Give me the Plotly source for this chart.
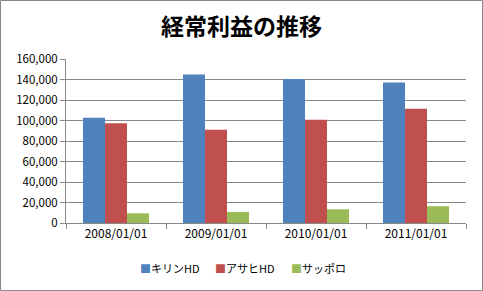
import plotly.graph_objects as go

categories = ["2008/01/01", "2009/01/01", "2010/01/01", "2011/01/01"]
kirin = [102600, 144800, 140600, 137000]
asahi = [97400, 90900, 100700, 111500]
sapporo = [9500, 10800, 13400, 16400]
series_names = ["キリンHD", "アサヒHD", "サッポロ"]
colors = ["#4F81BD", "#C0504D", "#9BBB59"]

W, H = 483, 291
ml, mr, mt, mb = 66, 17, 59, 68
font = "Noto Sans CJK JP, DejaVu Sans, sans-serif"

fig = go.Figure()
for name, vals, c in zip(series_names, [kirin, asahi, sapporo], colors):
    fig.add_trace(go.Bar(x=categories, y=vals, name=name, showlegend=False,
                         marker=dict(color=c, line=dict(width=0))))

pw, ph = W - ml - mr, H - mt - mb
fig.add_shape(type="rect", xref="paper", yref="paper",
              x0=(0.5 - ml) / pw, x1=(W - 0.5 - ml) / pw,
              y0=-(mb - 0.5) / ph, y1=1 + (mt - 0.5) / ph,
              line=dict(color="#888888", width=1), layer="above")

# legend drawn as text items
legend_x = [138, 213, 289]
for name, c, lx in zip(series_names, colors, legend_x):
    fig.add_annotation(text=f"<span style='color:{c}'>■</span>{name}",
                       xref="paper", yref="paper",
                       x=(lx - ml) / pw, y=-(268 - mt - ph) / ph,
                       xanchor="left", yanchor="middle", showarrow=False,
                       font=dict(size=11, family=font, color="#000000"))

fig.update_layout(
    width=W, height=H,
    margin=dict(l=ml, r=mr, t=mt, b=mb),
    paper_bgcolor="white", plot_bgcolor="white",
    barmode="group", bargap=0.34, bargroupgap=0,
    font=dict(family=font, size=11, color="#000000"),
    title=dict(text="<b>経常利益の推移</b>", x=0.5, xref="container", xanchor="center",
               y=1 - 27 / H, yref="container", yanchor="middle",
               font=dict(size=23, family=font, color="#000000")),
    showlegend=False,
    xaxis=dict(type="category", showline=True, linecolor="#888888", ticks="outside",
               tickson="boundaries", ticklen=5, tickcolor="#888888", showgrid=False,
               tickfont=dict(size=12, family=font)),
    yaxis=dict(range=[0, 160000], dtick=20000, tickformat=",d", showline=True,
               linecolor="#888888", ticks="outside", ticklen=5, tickcolor="#888888",
               gridcolor="#888888", gridwidth=1, zeroline=False,
               tickfont=dict(size=11.5, family=font)),
)
fig.write_html("out.html")
